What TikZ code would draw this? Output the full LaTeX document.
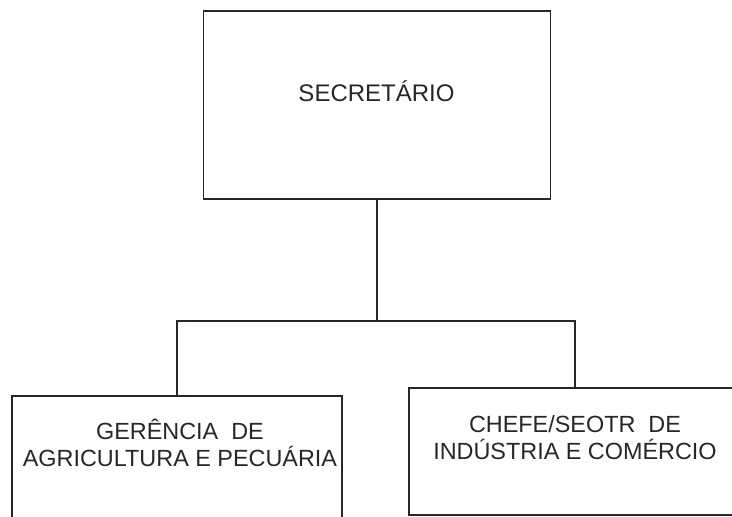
\documentclass[tikz,border=0pt]{standalone}
\usepackage{fontspec}
\setmainfont{Liberation Sans}
\usetikzlibrary{positioning}

\begin{document}
\begin{tikzpicture}[x=0.5pt,y=-0.5pt]
\definecolor{ink1}{RGB}{40,38,42}
\tikzset{
  box/.style={draw=ink1,line width=0.75pt,inner sep=0pt},
  label1/.style={text=ink1,align=center,font=\fontsize{11.7}{13.5}\selectfont},
  link/.style={draw=ink1,line width=0.7pt}
}
\useasboundingbox (0,0) rectangle (732,517);
\clip (0,0) rectangle (732,517);
    \node[box,minimum width=173.5pt,minimum height=94pt] (secretario) at (377,105) {};
    \node[box,minimum width=165pt,minimum height=75pt] (gerencia) at (177,471) {};
    \node[box,minimum width=166pt,minimum height=63.5pt] (chefe) at (575,451.5) {};
    \node[label1,font=\fontsize{12}{14}\selectfont] (secretariotxt) at (376.5,91) {SECRETÁRIO};
    \node[label1] (gerenciatxt) at (180,443) {GERÊNCIA\ \ DE\\AGRICULTURA E PECUÁRIA};
    \node[label1] (chefetxt) at (575,438) {CHEFE/SEOTR\ \ DE\\INDÚSTRIA E COMÉRCIO};
    \coordinate (split) at (secretario.south |- 0,321);
    \draw[link] (secretario.south) -- (split);
    \draw[link] (split) -| (gerencia.north);
    \draw[link] (split) -| (chefe.north);
\end{tikzpicture}
\end{document}
